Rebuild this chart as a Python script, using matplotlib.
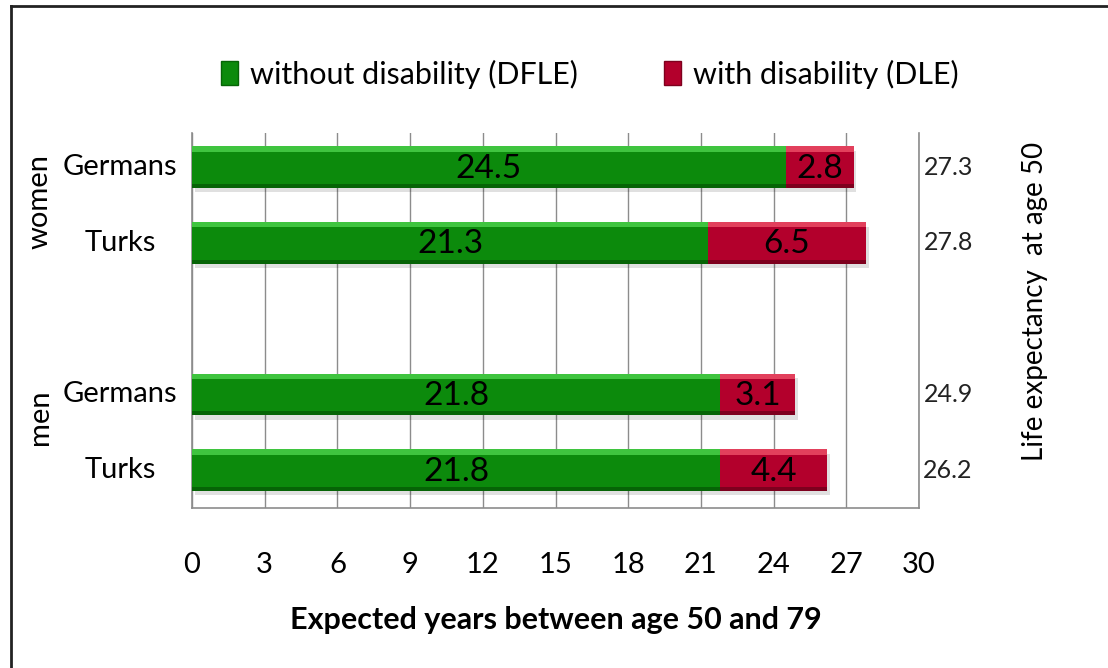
import numpy as np
import matplotlib.pyplot as plt
import matplotlib.transforms as mtransforms
from matplotlib.lines import Line2D

plt.rcParams['font.family'] = ['Lato', 'DejaVu Sans']

groups = ['women', 'men']
categories = ['Germans', 'Turks', 'Germans', 'Turks']
dfle = [24.5, 21.3, 21.8, 21.8]
dle = [2.8, 6.5, 3.1, 4.4]
totals = [27.3, 27.8, 24.9, 26.2]

GREEN = '#0c8a0c'
GREEN_HI = '#3fc43f'
GREEN_LO = '#066406'
RED = '#b3002c'
RED_HI = '#e2405c'
RED_LO = '#7e001e'

# slots: two bars per group with an empty slot between the groups
ypos = np.array([0, 1, 3, 4])
group_y = [0.45, 3.3]
h = 0.55

fig = plt.figure(figsize=(11.08, 6.68), dpi=100)
ax = fig.add_axes([192 / 1108, 1 - 508 / 668, (919 - 192) / 1108, (508 - 133) / 668])


def bevel_bar(y, left, width, base, hi, lo):
    # soft shadow under the bar
    ax.barh(y + 0.06, width, height=h, left=left + 0.12, color='#000000',
            alpha=0.12, zorder=2, linewidth=0)
    ax.barh(y, width, height=h, left=left, color=base, zorder=3, linewidth=0)
    # light top edge and dark bottom edge
    ax.barh(y - h / 2 + 0.035, width, height=0.07, left=left, color=hi,
            zorder=4, linewidth=0)
    ax.barh(y + h / 2 - 0.025, width, height=0.05, left=left, color=lo,
            zorder=4, linewidth=0)


for i, y in enumerate(ypos):
    bevel_bar(y, 0, dfle[i], GREEN, GREEN_HI, GREEN_LO)
    bevel_bar(y, dfle[i], dle[i], RED, RED_HI, RED_LO)
    ax.text(dfle[i] / 2, y + 0.02, f'{dfle[i]:.1f}', ha='center', va='center',
            fontsize=24, color='black', zorder=5)
    ax.text(dfle[i] + dle[i] / 2, y + 0.02, f'{dle[i]:.1f}', ha='center', va='center',
            fontsize=24, color='black', zorder=5)
    ax.text(1.04, y, f'{totals[i]:.1f}', transform=ax.get_yaxis_transform(),
            ha='center', va='center', fontsize=18, color='#222222')

ax.set_xlim(0, 30)
ax.set_ylim(4.5, -0.45)
ax.set_xticks(np.arange(0, 31, 3))
ax.tick_params(axis='x', length=0, pad=32, labelsize=21)
ax.set_yticks(ypos)
ax.set_yticklabels([])
ax.tick_params(axis='y', length=0)

# category names centred in the label column
fig_y = mtransforms.blended_transform_factory(fig.transFigure, ax.transData)
for cat, y in zip(categories, ypos):
    ax.text(120 / 1108, y, cat, transform=fig_y, ha='center', va='center',
            fontsize=21)
for g, gy in zip(groups, group_y):
    ax.text(40 / 1108, gy, g, transform=fig_y, rotation=90, ha='center',
            va='center', fontsize=21)

ax.grid(axis='x', color='#8c8c8c', linewidth=1.0, zorder=0)
ax.set_axisbelow(True)
for side in ['left', 'bottom', 'right']:
    ax.spines[side].set_color('#8c8c8c')
    ax.spines[side].set_linewidth(1.2)
ax.spines['top'].set_visible(False)

ax.set_xlabel('Expected years between age 50 and 79', fontsize=22,
              fontweight='bold', labelpad=20)

fig.text(1035 / 1108, 1 - 301 / 668, 'Life expectancy  at age 50', rotation=90,
         ha='center', va='center', fontsize=20)

# legend
handles = [plt.Rectangle((0, 0), 1, 1, facecolor=GREEN, edgecolor=GREEN_LO),
           plt.Rectangle((0, 0), 1, 1, facecolor=RED, edgecolor=RED_LO)]
fig.legend(handles, ['without disability (DFLE)', 'with disability (DLE)'],
           loc='center', bbox_to_anchor=(590 / 1108, 1 - 74 / 668), ncol=2,
           frameon=False, fontsize=22, handlelength=0.55, handleheight=0.8,
           handletextpad=0.4, columnspacing=2.8)

# chart frame
fig.add_artist(Line2D([11 / 1108, 1], [1 - 6 / 668, 1 - 6 / 668], color='#222222',
                      linewidth=2, transform=fig.transFigure))
fig.add_artist(Line2D([11 / 1108, 11 / 1108], [0, 1 - 6 / 668], color='#222222',
                      linewidth=2, transform=fig.transFigure))

fig.savefig('out.png', dpi=100)
